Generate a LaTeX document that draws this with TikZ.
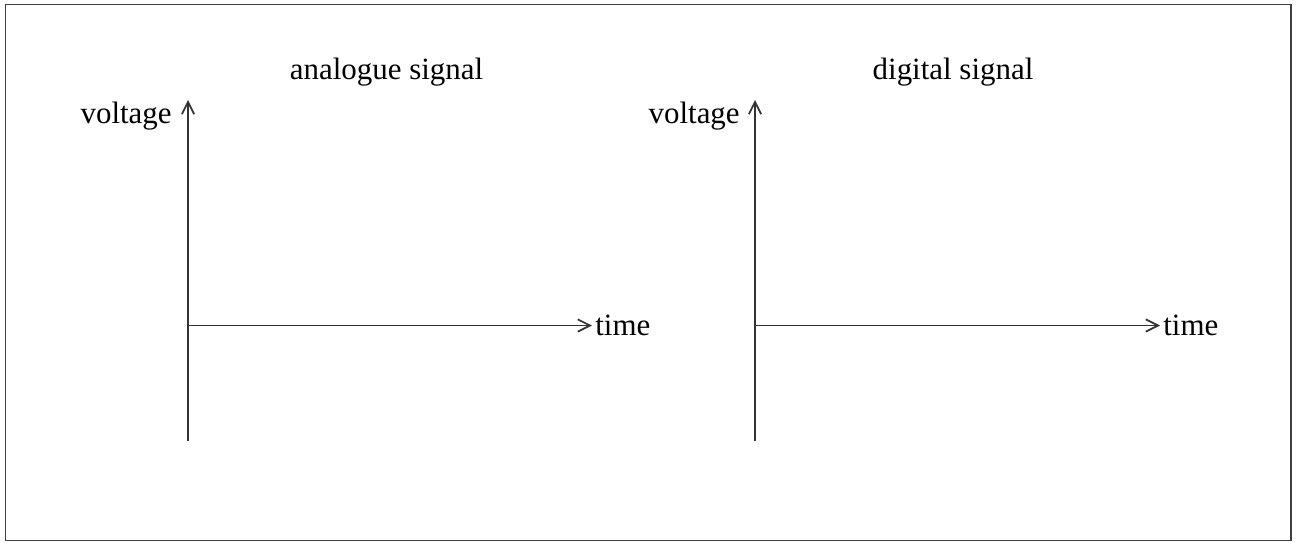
\documentclass[tikz,border=0pt]{standalone}
\usepackage{fontspec}
\setmainfont{Liberation Serif}
\usepackage{tikz}
\usetikzlibrary{arrows.meta,calc,positioning}

\begin{document}
\begin{tikzpicture}[axis/.style={black!80,line width=1pt,-{Straight Barb[length=7pt,width=7pt]}},
    lbl/.style={inner sep=0pt,font=\fontsize{17.6}{21}\selectfont}]
            \useasboundingbox (0,0) rectangle (25.96,10.84);
            \draw[black!75,line width=1.1pt] (0.11,0.03) rectangle (25.82,10.75);
            % analogue
            \coordinate (oa) at (3.76,4.33);
            \coordinate (ba) at (3.76,2.02);
            \coordinate (ya) at (3.76,8.84);
            \coordinate (xa) at (11.84,4.33);
            \draw[axis] (ba) -- (ya);
            \draw[axis] (oa) -- (xa);
            \node[lbl,anchor=base] (ta) at (7.73,9.25) {analogue signal};
            \node[lbl,anchor=base east] (va) at (3.44,8.38) {voltage};
            \node[lbl,anchor=base west] (ha) at (11.90,4.14) {time};
            % digital
            \coordinate (od) at (15.10,4.33);
            \coordinate (bd) at (15.10,2.02);
            \coordinate (yd) at (15.10,8.84);
            \coordinate (xd) at (23.20,4.33);
            \draw[axis] (bd) -- (yd);
            \draw[axis] (od) -- (xd);
            \node[lbl,anchor=base] (td) at (19.06,9.25) {digital signal};
            \node[lbl,anchor=base east] (vd) at (14.80,8.38) {voltage};
            \node[lbl,anchor=base west] (hd) at (23.26,4.14) {time};
\end{tikzpicture}
\end{document}
